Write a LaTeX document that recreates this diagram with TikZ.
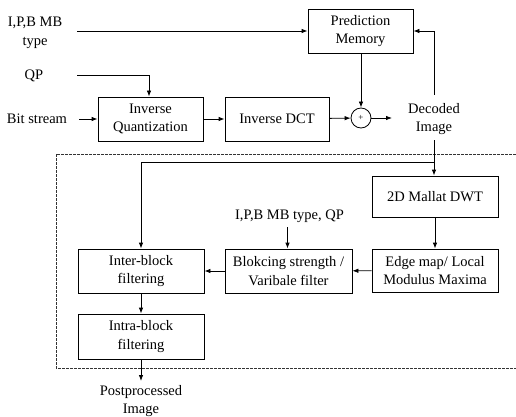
\documentclass[tikz,border=0pt]{standalone}
\usepackage{fontspec}
\setmainfont{Liberation Serif}
\usetikzlibrary{arrows.meta}
\begin{document}
\begin{tikzpicture}[x=1pt,y=-1pt,
  font=\fontsize{14.5}{18.5}\selectfont,
  block/.style={draw,line width=0.8pt,align=center,inner sep=0pt},
  lbl/.style={align=center,inner sep=0pt},
  flow/.style={line width=0.8pt,-{Latex[length=6pt,width=4.5pt]}},
  wire/.style={line width=0.8pt},
  frame/.style={line width=0.7pt,black!80,dash pattern=on 3pt off 1pt}]
\useasboundingbox (0,0) rectangle (516,417);

% decoder blocks
\node[block,minimum width=105pt,minimum height=44pt] (pm) at (360.5,31) {Prediction\\Memory};
\node[block,minimum width=105pt,minimum height=44pt] (iq) at (150.5,119) {Inverse\\Quantization};
\node[block,minimum width=104pt,minimum height=44pt] (idct) at (277,119) {Inverse DCT};
\node[draw,circle,line width=0.8pt,minimum size=20pt,inner sep=0pt,font=\fontsize{9}{9}\selectfont] (sum) at (361,118) {+};

% postprocessing blocks
\node[block,minimum width=126pt,minimum height=41pt] (dwt) at (435,196.5) {2D Mallat DWT};
\node[block,minimum width=126pt,minimum height=43pt] (edge) at (435,270.5) {Edge map/ Local\\Modulus Maxima};
\node[block,minimum width=127pt,minimum height=44pt] (blk) at (288.5,271) {Blokcing strength /\\Varibale filter};
\node[block,minimum width=126pt,minimum height=44pt] (inter) at (141,271) {Inter-block\\filtering};
\node[block,minimum width=126pt,minimum height=45pt] (intra) at (141,336.5) {Intra-block\\filtering};

% labels
\node[lbl] (type) at (35,33) {I,P,B MB\\type};
\node[lbl] (qp) at (34,76) {QP};
\node[lbl] (bits) at (37,119) {Bit stream};
\node[lbl] (dec) at (434,119) {Decoded\\Image};
\node[lbl] (mbqp) at (289.5,216) {I,P,B MB type, QP};
\node[lbl] (post) at (141,401) {Postprocessed\\Image};

% free ends of the connectors
\coordinate (typeS) at (77,31);
\coordinate (qpS) at (77,75);
\coordinate (bitsS) at (79,119);
\coordinate (sumE) at (392,118);
\coordinate (decUp) at (434,95);
\coordinate (decDn) at (434,140);
\coordinate (split) at (434,162);
\coordinate (mbS) at (287.5,227);
\coordinate (postE) at (141,381);

% postprocessing frame (open on the right)
\draw[frame] (516,154) -- (56,154) -- (56,368) -- (516,368);

% decoder connections
\draw[flow] (typeS) -- (pm.west);
\draw[flow] (qpS) -| ([xshift=-1.5pt]iq.north);
\draw[flow] (bitsS) -- (iq.west);
\draw[flow] (iq) -- (idct);
\draw[flow] (idct) -- (sum);
\draw[flow] (pm.south -| sum) -- (sum);
\draw[flow] (sum) -- (sumE);
\draw[flow] (decUp) |- (pm.east);

% postprocessing connections
\draw[wire] (decDn) -- (split);
\draw[flow] (split) -- (split |- dwt.north);
\draw[flow] (split) -| (inter.north);
\draw[flow] (dwt) -- (edge);
\draw[flow] (edge) -- (blk);
\draw[flow] (blk) -- (inter);
\draw[flow] (mbS) -- (mbS |- blk.north);
\draw[flow] (inter) -- (intra);
\draw[flow] (intra) -- (postE);
\end{tikzpicture}
\end{document}
